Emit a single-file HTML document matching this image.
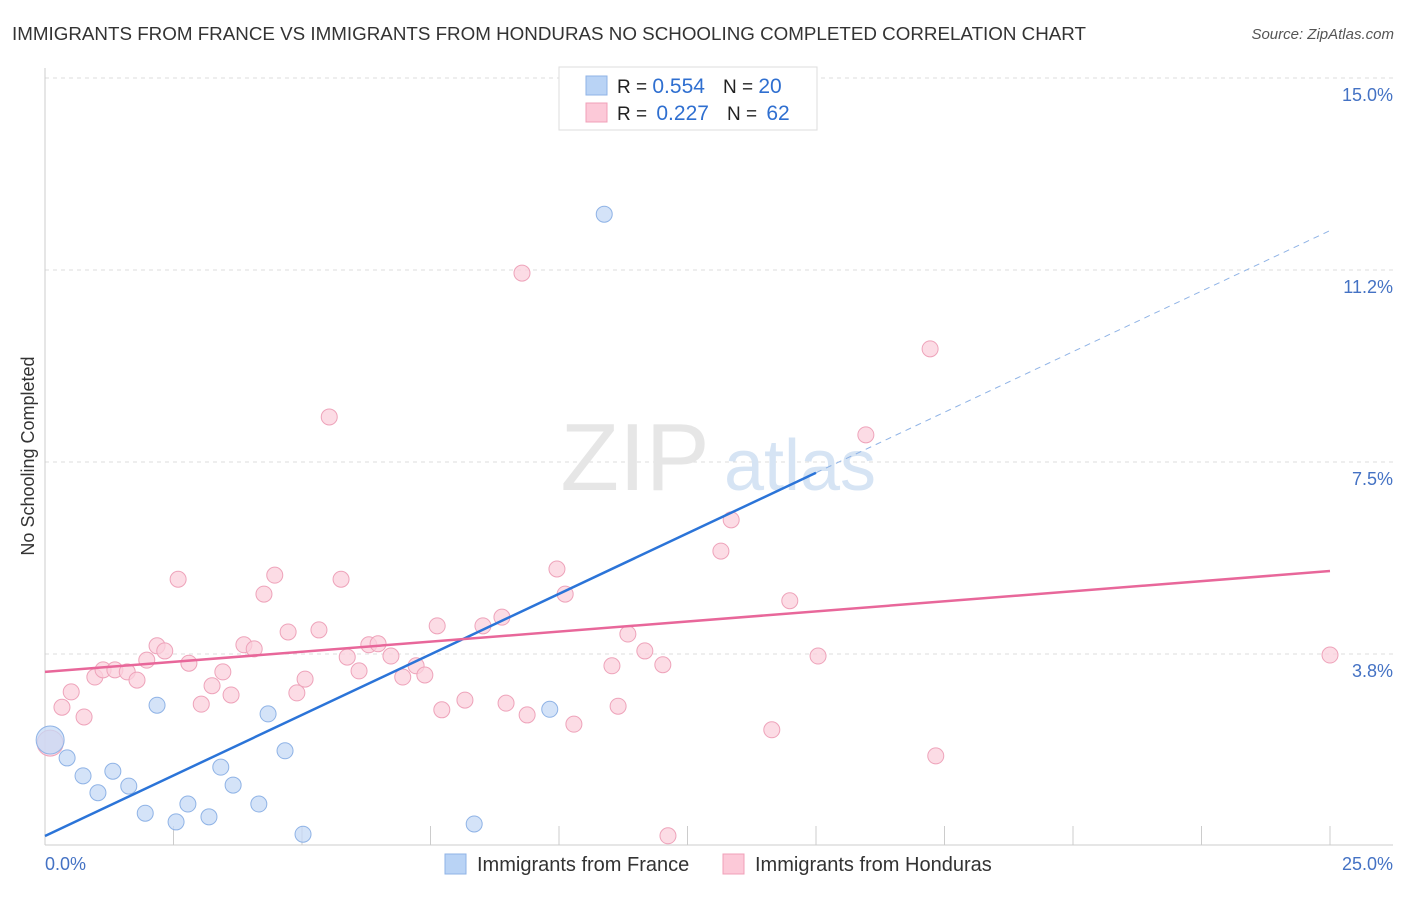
<!DOCTYPE html>
<html><head><meta charset="utf-8"><style>
body{margin:0;background:#fff;font-family:"Liberation Sans",sans-serif;}
svg text{font-family:"Liberation Sans",sans-serif;}
</style></head><body>
<svg id="chart" width="1406" height="892">
<text x="12" y="40" font-size="18" fill="#333" textLength="1074" lengthAdjust="spacingAndGlyphs">IMMIGRANTS FROM FRANCE VS IMMIGRANTS FROM HONDURAS NO SCHOOLING COMPLETED CORRELATION CHART</text>
<text x="1394" y="39" font-size="15" fill="#555" font-style="italic" text-anchor="end">Source: ZipAtlas.com</text>
<text transform="translate(34,456) rotate(-90)" font-size="18" fill="#333" text-anchor="middle">No Schooling Completed</text>
<g id="grid"></g>
<g id="watermark">
<text x="635" y="490" font-size="96" fill="#e6e6e6" font-family="Liberation Serif" text-anchor="middle">ZIP</text>
<text x="800" y="490" font-size="72" fill="#d6e4f4" text-anchor="middle">atlas</text>
</g>
<line x1="45" y1="68" x2="45" y2="845" stroke="#ccc"/>
<line x1="45" y1="845" x2="1393" y2="845" stroke="#ccc"/>
<g id="xticks"></g>
<g id="yticks"></g>
<text x="45" y="870" font-size="18" fill="#4472c4">0.0%</text>
<text x="1393" y="870" font-size="18" fill="#4472c4" text-anchor="end">25.0%</text>
<g id="pinkpts"></g>
<g id="bluepts"></g>
<g id="lines"></g>
<g>
<rect x="559" y="67" width="258" height="63" fill="#fff" stroke="#ddd"/>
<rect x="586" y="76" width="21" height="19" fill="#b9d3f5" stroke="#8fb3e6"/>
<rect x="586" y="103" width="21" height="19" fill="#fcc9d8" stroke="#f0a0b8"/>
<text x="617" y="93" font-size="19" fill="#222">R = <tspan font-size="21" fill="#2f6fd0">0.554</tspan><tspan dx="18">N = </tspan><tspan font-size="21" fill="#2f6fd0">20</tspan></text>
<text x="617" y="120" font-size="19" fill="#222">R = <tspan dx="4" font-size="21" fill="#2f6fd0">0.227</tspan><tspan dx="18">N = </tspan><tspan dx="4" font-size="21" fill="#2f6fd0">62</tspan></text>
</g>
<g>
<rect x="445" y="854" width="21" height="20" fill="#b9d3f5" stroke="#8fb3e6"/>
<text x="477" y="871" font-size="20" fill="#333">Immigrants from France</text>
<rect x="723" y="854" width="21" height="20" fill="#fcc9d8" stroke="#f0a0b8"/>
<text x="755" y="871" font-size="20" fill="#333">Immigrants from Honduras</text>
</g>
</svg>
<script>
const yTicks=[3.75,7.5,11.25,15];
const yTickLabels=["3.8%","7.5%","11.2%","15.0%"];
const xTicks=[0,2.5,5,7.5,10,12.5,15,17.5,20,22.5,25];
const blueX=[0.10,0.43,0.74,1.03,1.32,1.63,1.95,2.18,2.55,2.78,3.19,3.42,3.66,4.16,4.34,4.67,5.02,8.35,9.82,10.88];
const blueY=[2.07,1.72,1.37,1.04,1.46,1.17,0.64,2.75,0.47,0.82,0.57,1.54,1.19,0.82,2.58,1.86,0.23,0.43,2.67,12.34];
const pinkX=[0.10,0.33,0.51,0.76,0.97,1.13,1.36,1.60,1.79,1.98,2.18,2.33,2.59,2.80,3.04,3.25,3.46,3.62,3.87,4.07,4.26,4.47,4.73,4.90,5.06,5.33,5.53,5.76,5.88,6.11,6.30,6.48,6.73,6.96,7.22,7.39,7.63,7.72,8.17,8.52,8.89,8.97,9.28,9.38,9.96,10.12,10.29,11.03,11.15,11.34,11.67,12.02,12.12,13.15,13.35,14.14,14.49,15.04,15.97,17.22,17.33,25.00];
const pinkY=[2.01,2.71,3.01,2.52,3.30,3.44,3.44,3.40,3.24,3.63,3.91,3.81,5.21,3.57,2.77,3.13,3.40,2.95,3.93,3.85,4.92,5.29,4.18,2.99,3.26,4.22,8.38,5.21,3.69,3.42,3.93,3.95,3.71,3.30,3.52,3.34,4.30,2.66,2.85,4.30,4.47,2.79,11.19,2.56,5.41,4.92,2.38,3.52,2.73,4.14,3.81,3.54,0.20,5.76,6.37,2.27,4.79,3.71,8.03,9.71,1.76,3.73];
const blueFit=[0.195,0.473];
const pinkFit=[3.40,0.0788];
const NS="http://www.w3.org/2000/svg";
const X=v=>45+v*51.4, Y=v=>846-v*51.2;
function mk(tag,attrs,parent){const e=document.createElementNS(NS,tag);for(const k in attrs)e.setAttribute(k,attrs[k]);document.getElementById(parent).appendChild(e);return e;}
yTicks.forEach((t,i)=>{
 const g=mk('line',{x1:45,x2:1393,y1:Y(t),y2:Y(t),stroke:'#ddd','stroke-dasharray':'4,4'},'grid');
 
 
 const l=mk('text',{x:1393,y:Y(t)+23,'font-size':18,fill:'#4472c4','text-anchor':'end'},'yticks');
 l.textContent=yTickLabels[i];
 
 
});
xTicks.forEach(t=>{
 const l=mk('line',{x1:X(t),x2:X(t),y1:826,y2:845,stroke:'#ccc'},'xticks');
 
 
});
pinkX.forEach((x,i)=>{
 const r=(i==0)?13:8;
 const c=mk('circle',{cx:X(x),cy:Y(pinkY[i]),r:r,fill:'#fbd0dc','fill-opacity':0.75,stroke:'#eea3ba'},'pinkpts');
 
 
});
blueX.forEach((x,i)=>{
 const r=(i==0)?14:8;
 const c=mk('circle',{cx:X(x),cy:Y(blueY[i]),r:r,fill:'#c5daf6','fill-opacity':0.75,stroke:'#8fb3e6'},'bluepts');
 
 
});
const bl=mk('line',{x1:X(0),y1:Y(blueFit[0]),x2:X(15),y2:Y(blueFit[0]+blueFit[1]*15),stroke:'#2b74d8','stroke-width':2.5},'lines');


const bd=mk('line',{x1:X(15),y1:Y(blueFit[0]+blueFit[1]*15),x2:X(25),y2:Y(blueFit[0]+blueFit[1]*25),stroke:'#8fb3e6','stroke-width':1,'stroke-dasharray':'6,5'},'lines');


const pl=mk('line',{x1:X(0),y1:Y(pinkFit[0]),x2:X(25),y2:Y(pinkFit[0]+pinkFit[1]*25),stroke:'#e8679a','stroke-width':2.5},'lines');


</script>
</body></html>
